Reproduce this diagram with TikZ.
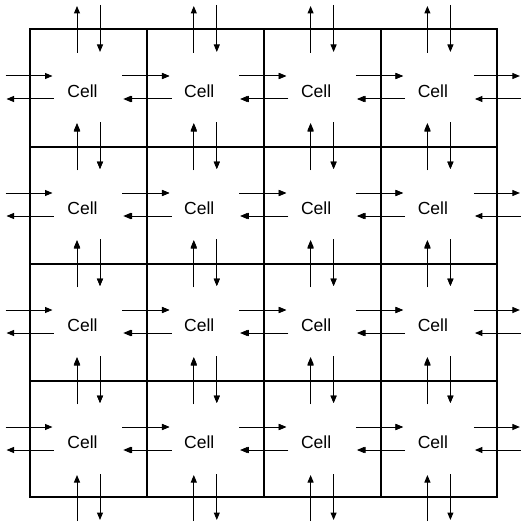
\documentclass[tikz,border=0pt]{standalone}
\usepackage{fontspec}
\setmainfont{Liberation Sans}
\usetikzlibrary{arrows.meta}
\begin{document}
\begin{tikzpicture}[x=1pt,y=-1pt,
  gridline/.style={line width=1.3pt,line cap=rect},
  flow/.style={line width=1pt,-{Triangle[length=7.5pt,width=6pt]}},
  lbl/.style={font=\fontsize{17.5}{20}\selectfont,inner sep=0pt}]
\useasboundingbox (0,0) rectangle (521,524);
% grid
\draw[gridline] (30,29) rectangle (497,497);
\foreach \x in {147,264,381} \draw[gridline] (\x,29) -- (\x,497);
\foreach \y in {147,264,381} \draw[gridline] (30,\y) -- (497,\y);
% cells
\foreach \i in {0,...,3} {
  \foreach \j in {0,...,3} {
    \pgfmathsetmacro\cx{88.5+116.8*\i}
    \pgfmathsetmacro\cy{88+117*\j}
    \coordinate (c\i\j) at (\cx,\cy);
    \node[lbl] (cell\i\j) at ([shift={(-6,3)}]c\i\j) {Cell};
    % top pair
    \coordinate (tua\i\j) at ([shift={(-11.5,-35)}]c\i\j);
    \coordinate (tub\i\j) at ([shift={(-11.5,-82)}]c\i\j);
    \coordinate (tda\i\j) at ([shift={(11.5,-83)}]c\i\j);
    \coordinate (tdb\i\j) at ([shift={(11.5,-36)}]c\i\j);
    \draw[flow] (tua\i\j) -- (tub\i\j);
    \draw[flow] (tda\i\j) -- (tdb\i\j);
    % bottom pair
    \coordinate (bua\i\j) at ([shift={(-11.5,82)}]c\i\j);
    \coordinate (bub\i\j) at ([shift={(-11.5,36)}]c\i\j);
    \coordinate (bda\i\j) at ([shift={(11.5,35)}]c\i\j);
    \coordinate (bdb\i\j) at ([shift={(11.5,81)}]c\i\j);
    \draw[flow] (bua\i\j) -- (bub\i\j);
    \draw[flow] (bda\i\j) -- (bdb\i\j);
    % left pair
    \coordinate (lra\i\j) at ([shift={(-83,-12)}]c\i\j);
    \coordinate (lrb\i\j) at ([shift={(-36,-12)}]c\i\j);
    \coordinate (lla\i\j) at ([shift={(-35,11)}]c\i\j);
    \coordinate (llb\i\j) at ([shift={(-82,11)}]c\i\j);
    \draw[flow] (lra\i\j) -- (lrb\i\j);
    \draw[flow] (lla\i\j) -- (llb\i\j);
    % right pair
    \coordinate (rra\i\j) at ([shift={(35,-12)}]c\i\j);
    \coordinate (rrb\i\j) at ([shift={(81,-12)}]c\i\j);
    \coordinate (rla\i\j) at ([shift={(83,11)}]c\i\j);
    \coordinate (rlb\i\j) at ([shift={(36,11)}]c\i\j);
    \draw[flow] (rra\i\j) -- (rrb\i\j);
    \draw[flow] (rla\i\j) -- (rlb\i\j);
  }
}
\end{tikzpicture}
\end{document}
